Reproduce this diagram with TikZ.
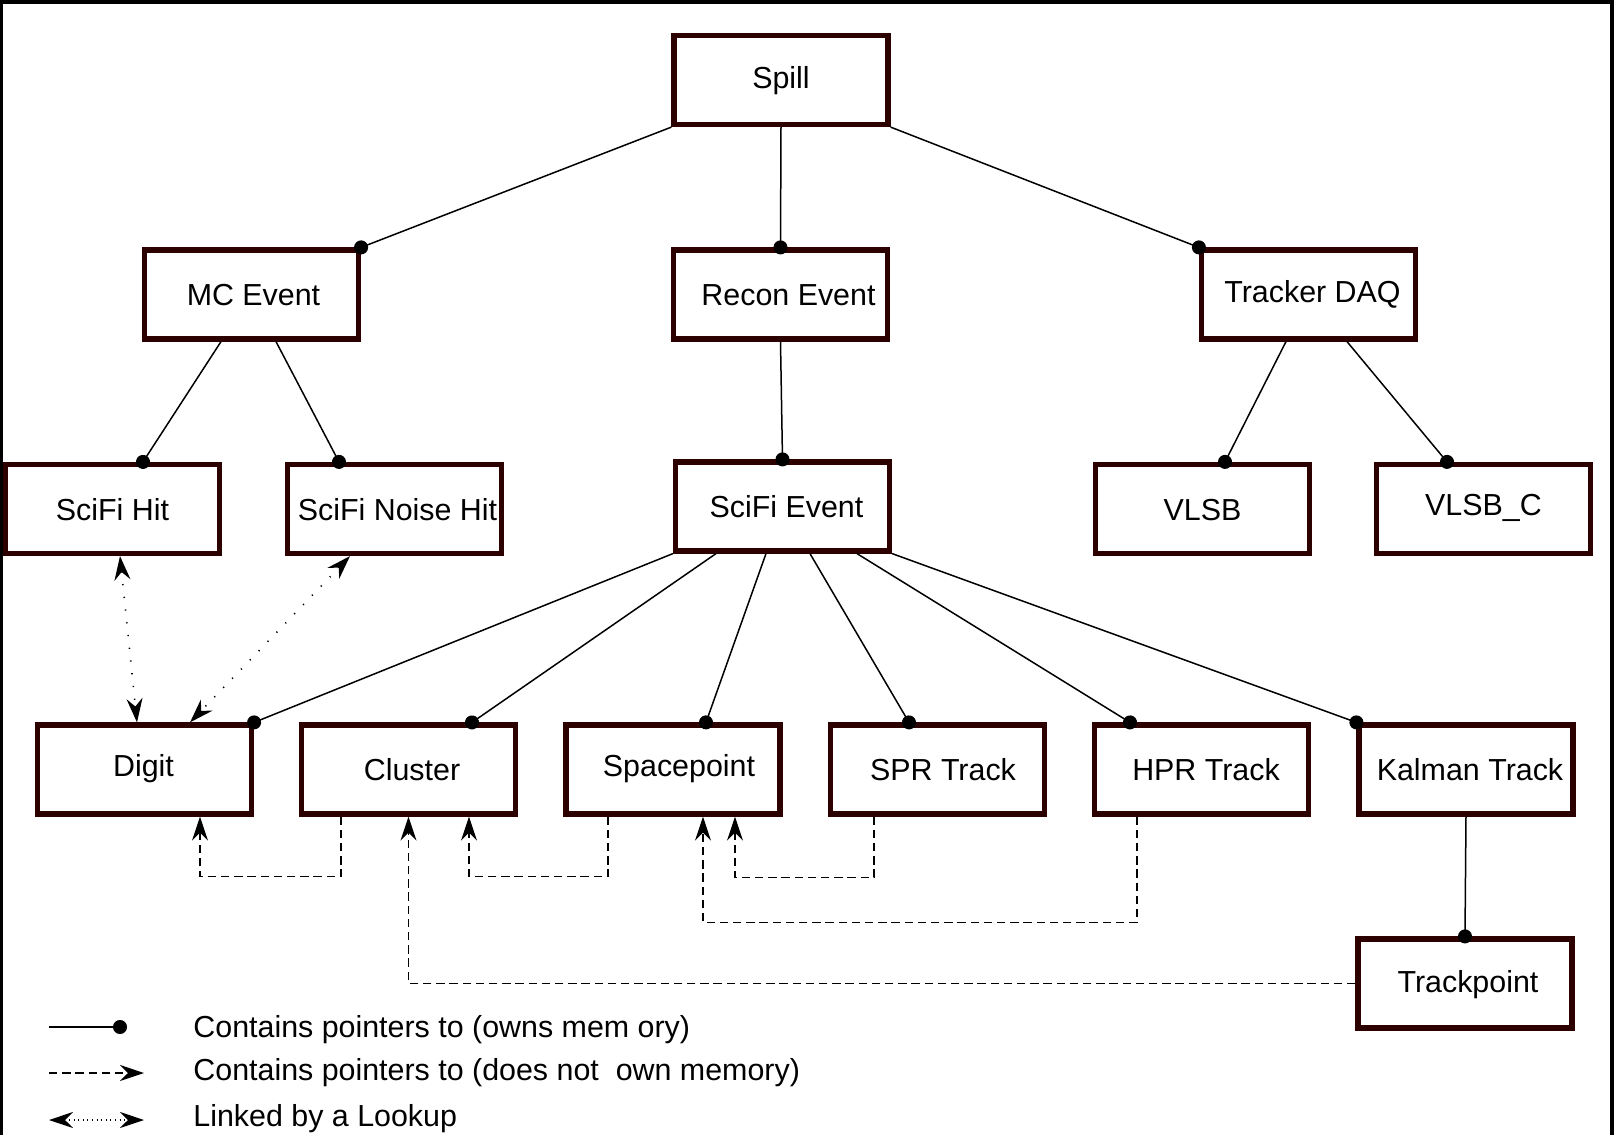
\documentclass[tikz,border=0pt]{standalone}
\usepackage{fontspec}
\setmainfont{Liberation Sans}
\usetikzlibrary{arrows.meta,calc}
\definecolor{boxc}{RGB}{45,0,0}
\newcommand{\bx}[6]{\node[box] (#1) at (#2,#3) {}; \node[txt] (#1t) at ($(#1)+(#4,#5+4)$) {#6};}
\begin{document}
\begin{tikzpicture}[x=0.5pt,y=-0.5pt,
  box/.style={draw=boxc, line width=2.6pt, minimum width=107pt, minimum height=44.5pt, inner sep=0pt, fill=white},
  txt/.style={inner sep=0pt, text height=0.716em, text depth=0pt, font=\fontsize{15.2}{18}\selectfont},
  owns/.style={line width=0.75pt, -{Circle[length=7pt]}, shorten >=-3.5pt},
  ptr/.style={line width=0.75pt, dash pattern=on 4.2pt off 2.4pt, -{Stealth[length=12pt,width=8pt,inset=4pt]}},
  lookup/.style={line width=0.8pt, dash pattern=on 0.6pt off 5.8pt, {Stealth[length=12pt,width=8pt,inset=4pt]}-{Stealth[length=12pt,width=8pt,inset=4pt]}},
]
\useasboundingbox (0,0) rectangle (1614,1135);
% frame
\fill[black] (0,0) rectangle (1614,4);
\fill[black] (0,0) rectangle (3,1135);
\fill[black] (1610,0) rectangle (1614,1135);

% boxes
\bx{spill}{781}{80}{0}{-3}{Spill}
\bx{mc}{251.5}{294.5}{2}{0}{MC Event}
\bx{recon}{780.5}{294.5}{8}{0}{Recon Event}
\bx{daq}{1308.5}{294.5}{4}{-3}{Tracker DAQ}
\bx{hit}{112.5}{509}{0}{0}{SciFi Hit}
\bx{noise}{394.5}{509}{3}{0}{SciFi Noise Hit}
\bx{sfe}{782.5}{506.5}{4}{0}{SciFi Event}
\bx{vlsb}{1202.5}{509}{0}{0}{VLSB}
\bx{vlsbc}{1483.5}{509}{0}{-5}{VLSB\_C}
\bx{digit}{144.5}{769.5}{-1}{-4}{Digit}
\bx{cluster}{408.5}{769.5}{3.5}{0}{Cluster}
\bx{sp}{673}{769.5}{6}{-4}{Spacepoint}
\bx{spr}{937.5}{769.5}{5.5}{0}{SPR Track}
\bx{hpr}{1201.5}{769.5}{4.5}{0}{HPR Track}
\bx{kal}{1466}{769.5}{4}{0}{Kalman Track}
\bx{tp}{1465}{983.5}{3}{-2}{Trackpoint}

% owning connectors
\draw[owns] (spill.south west) -- (mc.north east);
\draw[owns] (spill.south) -- (recon.north);
\draw[owns] (spill.south east) -- (daq.north west);
\draw[owns] ($(mc.south)+(-30.5,0)$) -- ($(hit.north)+(30.5,0)$);
\draw[owns] ($(mc.south)+(24.5,0)$) -- ($(noise.north)+(-55.5,0)$);
\draw[owns] (recon.south) -- (sfe.north);
\draw[owns] ($(daq.south)+(-22.5,0)$) -- ($(vlsb.north)+(22.5,0)$);
\draw[owns] ($(daq.south)+(38.5,0)$) -- ($(vlsbc.north)+(-36.5,0)$);
\draw[owns] (sfe.south west) -- (digit.north east);
\draw[owns] ($(sfe.south)+(-66.5,0)$) -- ($(cluster.north)+(63.5,0)$);
\draw[owns] ($(sfe.south)+(-16.5,0)$) -- ($(sp.north)+(33,0)$);
\draw[owns] ($(sfe.south)+(27.5,0)$) -- ($(spr.north)+(-28.5,0)$);
\draw[owns] ($(sfe.south)+(74.5,0)$) -- ($(hpr.north)+(-71.5,0)$);
\draw[owns] (sfe.south east) -- (kal.north west);
\draw[owns] (kal.south) -- (tp.north);

% non-owning pointers
\draw[ptr] ($(cluster.south)+(-67.5,0)$) |- ($(digit.south)+(55.5,60)$) -- ($(digit.south)+(55.5,0)$);
\draw[ptr] ($(sp.south)+(-65,0)$) |- ($(cluster.south)+(60.5,60)$) -- ($(cluster.south)+(60.5,0)$);
\draw[ptr] ($(spr.south)+(-63.5,0)$) |- ($(sp.south)+(62,61)$) -- ($(sp.south)+(62,0)$);
\draw[ptr] ($(hpr.south)+(-64.5,0)$) |- ($(sp.south)+(30,106)$) -- ($(sp.south)+(30,0)$);
\draw[ptr] (tp.west) -| (cluster.south);

% lookups
\draw[lookup] ($(hit.south)+(7.5,0)$) -- ($(digit.north)+(-7.5,0)$);
\draw[lookup] ($(noise.south)+(-44.5,0)$) -- ($(digit.north)+(45.5,0)$);

% legend
\coordinate (l1a) at (49,1027); \coordinate (l1b) at (127,1027);
\coordinate (l2a) at (49,1073); \coordinate (l2b) at (144,1073);
\coordinate (l3a) at (49,1120); \coordinate (l3b) at (144,1120);
\draw[owns, shorten >=0pt] (l1a) -- (l1b);
\draw[ptr] (l2a) -- (l2b);
\draw[lookup, dash pattern=on 0.5pt off 1.8pt, line width=0.6pt] (l3a) -- (l3b);
\node[txt, anchor=west] (t1) at (193,1030) {Contains pointers to (owns mem ory)};
\node[txt, anchor=west] (t2) at (193,1073) {Contains pointers to (does not\ \ own memory)};
\node[txt, anchor=west] (t3) at (193,1119) {Linked by a Lookup};
\end{tikzpicture}
\end{document}
